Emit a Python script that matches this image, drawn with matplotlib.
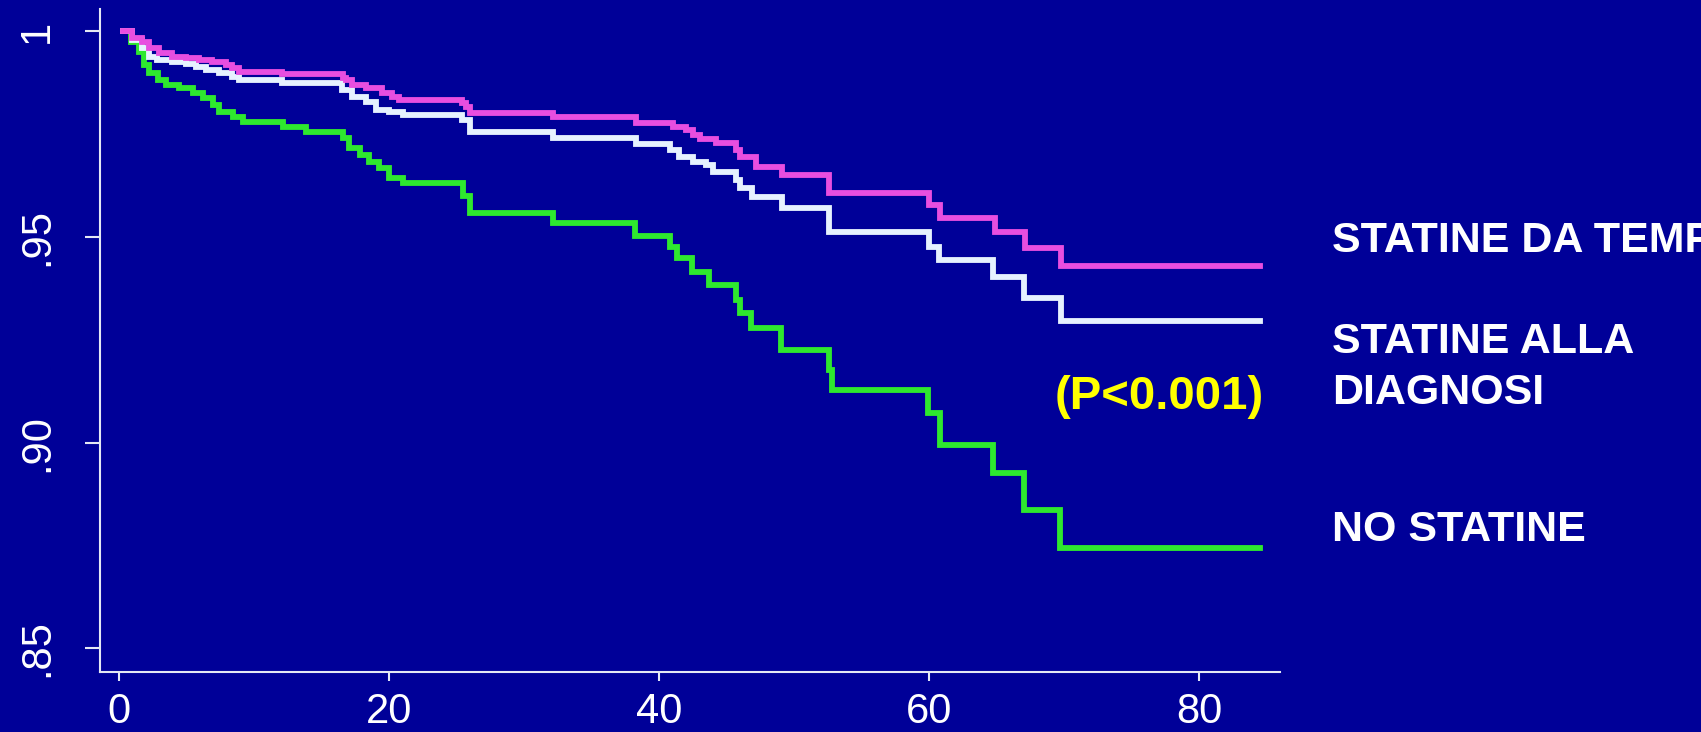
import matplotlib
matplotlib.use('Agg')
import matplotlib.pyplot as plt

# === 数据区 ===
x_ticks = [0, 20, 40, 60, 80]
y_ticks = [0.85, 0.90, 0.95, 1.0]
y_tick_labels = ['.85', '.90', '.95', '1']

# STATINE DA TEMPO (magenta)
t_da_tempo = [0.3, 0.96, 1.70, 2.22, 2.97, 3.93, 4.97, 5.93, 6.89, 7.93, 8.38, 8.90,
              12.08, 16.6, 16.83, 17.27, 18.31, 19.5, 20.24, 20.76, 25.4, 25.72, 25.95,
              32.1, 38.3, 41.0, 42.0, 42.5, 43.0, 44.2, 45.7, 45.96, 47.2, 49.1, 52.6,
              60.0, 60.8, 64.9, 67.1, 69.8, 84.5]
s_da_tempo = [1.0, 0.9982, 0.9974, 0.9958, 0.9946, 0.9938, 0.9934, 0.9930, 0.9925, 0.9917,
              0.9911, 0.9901, 0.9895, 0.9886, 0.9881, 0.9869, 0.9861, 0.9849, 0.9840, 0.9832,
              0.9824, 0.9815, 0.9800, 0.9790, 0.9777, 0.9767, 0.9759, 0.9747, 0.9737, 0.9727,
              0.9711, 0.9695, 0.9670, 0.9650, 0.9606, 0.9577, 0.9545, 0.9512, 0.9472, 0.9429,
              0.9429]

# STATINE ALLA DIAGNOSI (white)
t_diagnosi = [0.3, 0.96, 1.70, 2.22, 2.82, 3.93, 4.97, 5.71, 6.45, 7.41, 8.38, 8.90,
              12.08, 16.5, 17.27, 18.31, 19.05, 20.0, 21.0, 25.4, 25.95, 32.1, 38.3,
              40.8, 41.5, 42.5, 43.5, 44.0, 45.7, 45.96, 46.9, 49.1, 52.6, 60.0, 60.7,
              64.7, 67.0, 69.8, 84.5]
s_diagnosi = [1.0, 0.9978, 0.9958, 0.9938, 0.9930, 0.9925, 0.9919, 0.9913, 0.9905, 0.9897,
              0.9889, 0.9881, 0.9873, 0.9857, 0.9840, 0.9828, 0.9808, 0.9802, 0.9796, 0.9784,
              0.9755, 0.9739, 0.9725, 0.9711, 0.9695, 0.9682, 0.9674, 0.9658, 0.9638, 0.9618,
              0.9597, 0.9569, 0.9512, 0.9476, 0.9444, 0.9403, 0.9351, 0.9296, 0.9296]

# NO STATINE (green)
t_no = [0.3, 0.87, 1.48, 1.85, 2.22, 2.84, 3.46, 4.45, 5.43, 6.17, 6.92, 7.41, 8.40, 9.14,
        12.1, 13.84, 16.55, 17.05, 17.8, 18.53, 19.27, 20.0, 21.0, 25.5, 25.95, 32.1, 38.2,
        40.8, 41.3, 42.4, 43.7, 45.7, 45.96, 46.8, 49.05, 52.6, 52.8, 59.9, 60.8, 64.7,
        67.0, 69.7, 84.5]
s_no = [1.0, 0.9974, 0.9950, 0.9917, 0.9897, 0.9881, 0.9869, 0.9861, 0.9849, 0.9836, 0.9820,
        0.9804, 0.9792, 0.9780, 0.9767, 0.9755, 0.9739, 0.9715, 0.9699, 0.9682, 0.9666,
        0.9642, 0.9630, 0.9600, 0.9558, 0.9533, 0.9502, 0.9476, 0.9448, 0.9415, 0.9383,
        0.9346, 0.9314, 0.9278, 0.9225, 0.9176, 0.9128, 0.9071, 0.8994, 0.8925, 0.8836,
        0.8743, 0.8743]

# === 样式 ===
bg = '#000098'
axis_col = '#e4e8f4'
W, H = 1701, 732
plt.rcParams['font.family'] = ['Liberation Sans', 'DejaVu Sans']

fig = plt.figure(figsize=(W / 100, H / 100), dpi=100)
fig.patch.set_facecolor(bg)
ax = fig.add_axes([100 / W, 1 - 672 / H, 1180 / W, 663 / H])
ax.set_facecolor(bg)

# === 曲线 ===
lw = 4.2
ax.step(t_no, s_no, where='post', color='#2ee82e', lw=lw, solid_joinstyle='miter')
ax.step(t_diagnosi, s_diagnosi, where='post', color='#e6f2ff', lw=lw, solid_joinstyle='miter')
ax.step(t_da_tempo, s_da_tempo, where='post', color='#e84ee0', lw=lw, solid_joinstyle='miter')

ax.set_xlim(-1.43, 86.0)
ax.set_ylim(0.84427, 1.00534)

# === 坐标轴 ===
for side in ['top', 'right']:
    ax.spines[side].set_visible(False)
for side in ['left', 'bottom']:
    ax.spines[side].set_color(axis_col)
    ax.spines[side].set_linewidth(1.5)

ax.set_xticks(x_ticks)
ax.set_xticklabels([str(v) for v in x_ticks])
ax.set_yticks(y_ticks)
ax.set_yticklabels(y_tick_labels, rotation=90, va='center')
ax.tick_params(axis='x', colors=axis_col, labelcolor='white', labelsize=30,
               length=6.5, width=1.5, pad=8)
ax.tick_params(axis='y', colors=axis_col, labelcolor='white', labelsize=30,
               length=11, width=1.5, pad=20)

# === 文字 ===
lab_kw = dict(color='white', fontsize=31, fontweight='bold', va='baseline', ha='left')
fig.text(1332 / W, 1 - 252 / H, 'STATINE DA TEMPO', **lab_kw)
fig.text(1332 / W, 1 - 353 / H, 'STATINE ALLA', **lab_kw)
fig.text(1332 / W, 1 - 404 / H, 'DIAGNOSI', **lab_kw)
fig.text(1332 / W, 1 - 541 / H, 'NO STATINE', **lab_kw)
fig.text(1264 / W, 1 - 409 / H, '(P<0.001)', color='#ffff00', fontsize=34,
         fontweight='bold', va='baseline', ha='right')

fig.savefig('out.png', dpi=100, facecolor=fig.get_facecolor())
print('saved out.png')
